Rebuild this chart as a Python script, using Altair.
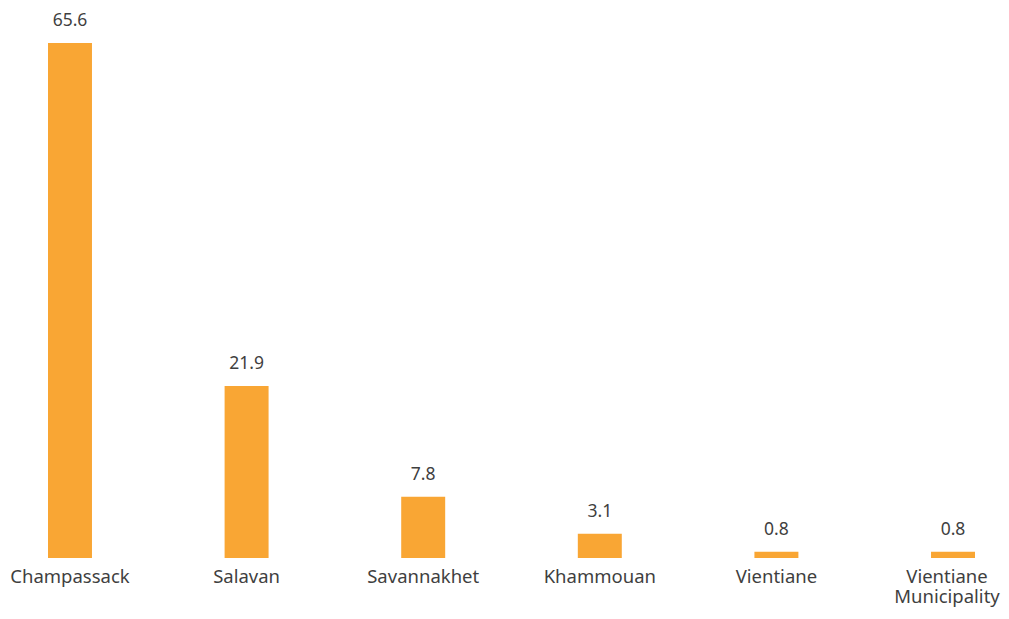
import altair as alt
import pandas as pd

provinces = ["Champassack", "Salavan", "Savannakhet", "Khammouan", "Vientiane", "Vientiane Municipality"]
values = [65.6, 21.9, 7.8, 3.1, 0.8, 0.8]
labels = ["65.6", "21.9", "7.8", "3.1", "0.8", "0.8"]

df = pd.DataFrame({"province": provinces, "value": values, "label": labels})

FONT = "Noto Sans"
TXT = "#3f3f3f"
BAR = "#F9A634"

x = alt.X(
    "province:N",
    sort=provinces,
    scale=alt.Scale(range=[40, 967], paddingInner=0.751, paddingOuter=0),
    axis=alt.Axis(
        title=None,
        domain=False,
        ticks=False,
        grid=False,
        labelAngle=0,
        labelFont=FONT,
        labelFontSize=18.5,
        labelColor=TXT,
        labelPadding=9,
        labelLineHeight=20,
        labelOverlap=False,
        labelBound=False,
        labelOffset={"expr": "datum.value == 'Vientiane Municipality' ? -6 : 0"},
        labelExpr="split(datum.label, ' ')",
    ),
)
y = alt.Y(
    "value:Q",
    scale=alt.Scale(domain=[0, 70.06], nice=False, zero=True),
    axis=None,
)

bars = alt.Chart(df).mark_bar(color=BAR).encode(x=x, y=y)
text = alt.Chart(df).mark_text(
    font=FONT, fontSize=17.5, color=TXT, dy=-22, baseline="middle"
).encode(x=x, y=y, text="label:N")

chart = (
    alt.layer(bars, text)
    .properties(
        width=993,
        height=550,
        autosize=alt.AutoSizeParams(type="none"),
        padding={"left": 0, "top": 0, "right": 0, "bottom": 51},
        view=alt.ViewBackground(strokeWidth=0, stroke=None),
    )
    .configure_view(strokeWidth=0, stroke=None)
    .configure(background="white")
)

chart.save("out.html", embed_options={"renderer": "svg", "actions": False})
